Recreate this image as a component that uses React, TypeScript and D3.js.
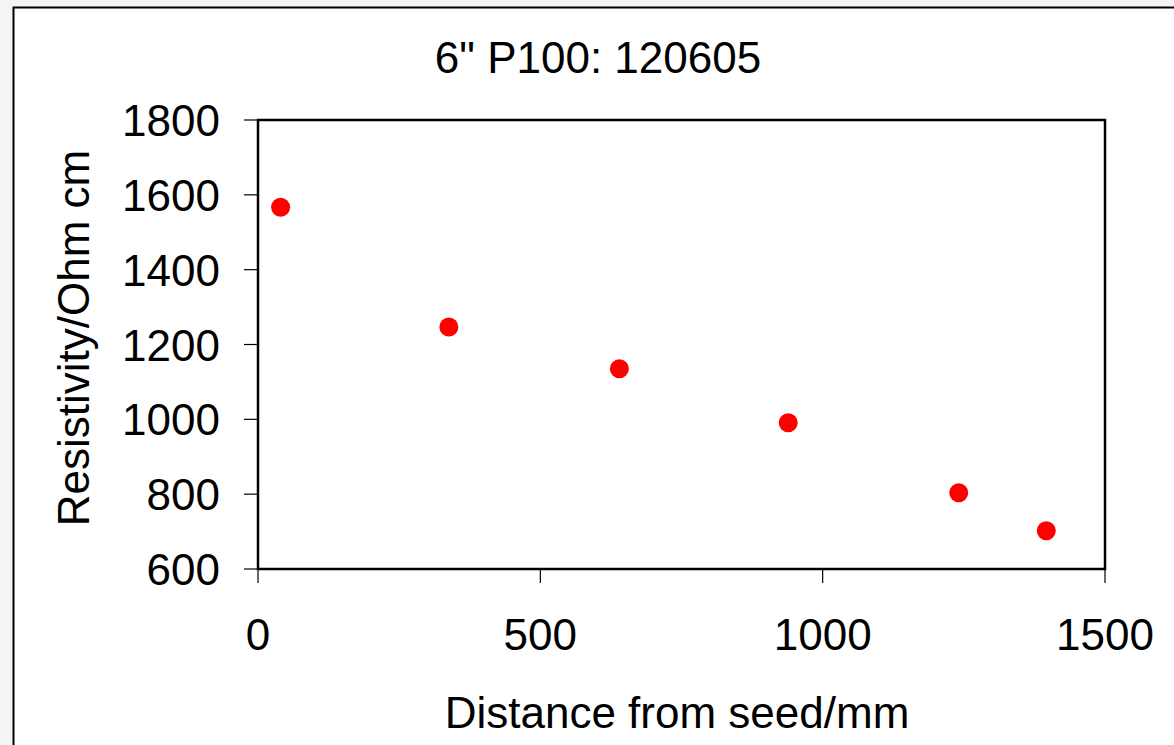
import React from "react";
import * as d3 from "d3";

const distances = [40, 338, 640, 939, 1241, 1396];
const resistivities = [1567, 1247, 1135, 991, 804, 702];
const xTicks = [0, 500, 1000, 1500];
const yTicks = [600, 800, 1000, 1200, 1400, 1600, 1800];
const title = '6" P100: 120605';
const xTitle = "Distance from seed/mm";
const yTitle = "Resistivity/Ohm cm";

const W = 1174;
const H = 745;
const plot = { left: 258, top: 120, right: 1105, bottom: 569 };
const font = "'Liberation Sans', Arial, sans-serif";

export default function App() {
  const x = d3.scaleLinear().domain([0, 1500]).range([plot.left, plot.right]);
  const y = d3.scaleLinear().domain([600, 1800]).range([plot.bottom, plot.top]);
  return (
    <svg
      width={W}
      height={H}
      style={{ position: "absolute", left: 0, top: 0, background: "#f4f5f2" }}
      fontFamily={font}
    >
      <rect x={13.5} y={7.5} width={W + 20} height={H + 20} fill="#fff" stroke="#000" strokeWidth={2} />
      <text x={598} y={73} fontSize={44} textAnchor="middle" fill="#000">
        {title}
      </text>
      {yTicks.map((t) => (
        <g key={"y" + t}>
          <line x1={plot.left - 14} x2={plot.left} y1={y(t)} y2={y(t)} stroke="#000" strokeWidth={1.2} />
          <text x={220} y={y(t) + 16} fontSize={44} textAnchor="end" fill="#000">
            {t}
          </text>
        </g>
      ))}
      {xTicks.map((t) => (
        <g key={"x" + t}>
          <line x1={x(t)} x2={x(t)} y1={plot.bottom} y2={plot.bottom + 14} stroke="#000" strokeWidth={1.2} />
          <text x={x(t)} y={650} fontSize={44} textAnchor="middle" fill="#000">
            {t}
          </text>
        </g>
      ))}
      <rect
        x={plot.left}
        y={plot.top}
        width={plot.right - plot.left}
        height={plot.bottom - plot.top}
        fill="none"
        stroke="#000"
        strokeWidth={2.5}
      />
      {distances.map((d, i) => (
        <circle key={i} cx={x(d)} cy={y(resistivities[i])} r={9.5} fill="#ff0000" />
      ))}
      <text x={677} y={728} fontSize={44} textAnchor="middle" fill="#000">
        {xTitle}
      </text>
      <text
        transform={`translate(89, 338) rotate(-90)`}
        fontSize={44}
        textAnchor="middle"
        fill="#000"
      >
        {yTitle}
      </text>
    </svg>
  );
}
